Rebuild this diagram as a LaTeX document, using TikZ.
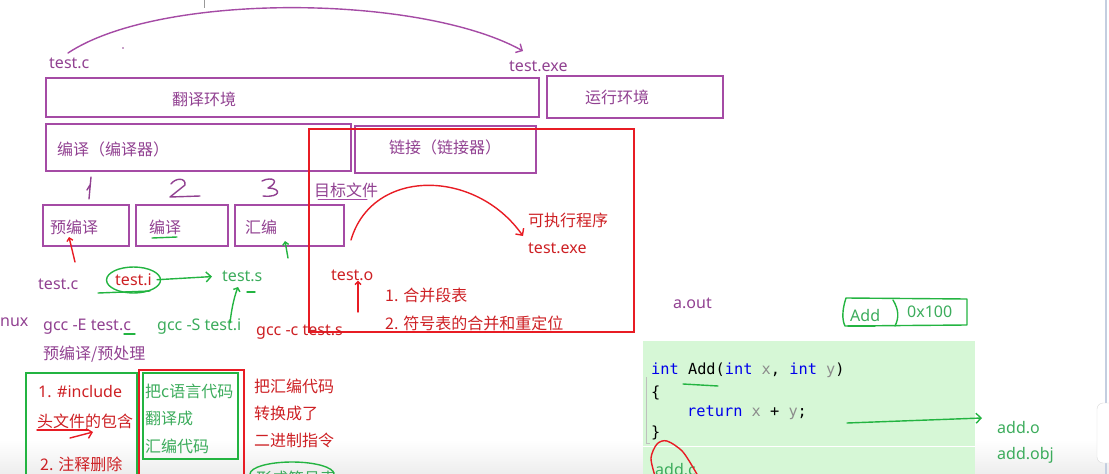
\documentclass[tikz,border=0pt]{standalone}
\usepackage{fontspec}
\setmainfont{Noto Sans}
\newfontfamily\zh{Noto Sans CJK SC}
\newfontfamily\codefont{DejaVu Sans Mono}
\usetikzlibrary{arrows.meta}

\definecolor{boxpurple}{RGB}{165,75,165}
\definecolor{txtpurple}{RGB}{145,65,145}
\definecolor{penred}{RGB}{232,28,36}
\definecolor{txtred}{RGB}{205,32,36}
\definecolor{pengreen}{RGB}{35,180,65}
\definecolor{txtgreen}{RGB}{60,172,92}
\definecolor{codebg}{RGB}{214,247,214}
\definecolor{kwblue}{RGB}{0,0,235}
\definecolor{barblue}{RGB}{196,206,224}

\begin{document}
\begin{tikzpicture}[x=1pt,y=-1pt,
  tag/.style={inner sep=0pt,anchor=west,font=\fontsize{16}{19}\selectfont},
  zhtag/.style={tag,font=\zh\fontsize{16}{19}\selectfont},
  code/.style={inner sep=0pt,anchor=west,font=\codefont\fontsize{15.3}{18}\selectfont},
  envbox/.style={draw=boxpurple,line width=2.6pt},
  redbox/.style={draw=penred,line width=2.4pt},
  greenbox/.style={draw=pengreen,line width=2.4pt},
  pen/.style={line width=1.4pt,line cap=round,line join=round},
  barb/.style={-{Straight Barb[length=5pt,width=10pt]}}]
\useasboundingbox (0,0) rectangle (1109,474);
\clip (0,0) rectangle (1109,474);
\shade[top color=white,bottom color=black!7] (0,440) rectangle (1109,474);
\draw[barblue,line width=2pt] (1106,0) -- (1106,474);
\draw[black!15,fill=white,rounded corners=6pt] (1097,403) rectangle (1118,463);

% top: source to executable
\draw[black!40,line width=.6pt] (204,0) -- (204,8);
\fill[txtpurple] (123,48) circle (.8);
\node[tag,text=txtpurple] (srcc) at (49,63) {test.c};
\node[tag,text=txtpurple] (dstexe) at (509,66) {test.exe};
\coordinate (arcstart) at (68,53);
\coordinate (arcend) at (523,51);
\draw[pen,boxpurple,barb] (arcstart) .. controls (160,-8) and (420,-6) .. (arcend);

% environments
\draw[envbox] (46,78) rectangle (539,117);
\node[zhtag,text=txtpurple] (transenv) at (172,99) {翻译环境};
\draw[envbox] (547,76) rectangle (723,118);
\node[zhtag,text=txtpurple] (runenv) at (585,97) {运行环境};
\draw[envbox] (46,124) rectangle (351,171);
\node[zhtag,text=txtpurple] (compiler) at (57,149) {编译（编译器）};
\draw[envbox] (355,126) rectangle (536,173);
\node[zhtag,text=txtpurple] (linker) at (389,147) {链接（链接器）};

% the three compile steps
\draw[pen,txtpurple] (91,177) -- (89,199) (90,185) -- (87,190);
\draw[pen,txtpurple] (171,184) .. controls (175,178) and (186,177) .. (185,185)
  -- (170,197) -- (200,196);
\draw[pen,txtpurple] (262,181) .. controls (272,176) and (281,181) .. (268,188)
  .. controls (282,188) and (281,198) .. (263,196);
\draw[envbox] (43,205) rectangle (129,246);
\node[zhtag,text=txtpurple] (precomp) at (50,227) {预编译};
\draw[envbox] (136,205) rectangle (228,246);
\node[zhtag,text=txtpurple] (comp) at (149,227) {编译};
\draw[pen,pengreen] (152,238) -- (177,237);
\draw[envbox] (235,205) rectangle (344,246);
\node[zhtag,text=txtpurple] (asm) at (245,227) {汇编};

% link box
\draw[redbox] (309,129) rectangle (634,332);
\node[zhtag,text=txtpurple] (objlabel) at (314,190) {目标文件};
\draw[pen,boxpurple,line width=1pt] (318,199) -- (367,199);
\node[zhtag,text=txtred] (runexe) at (528,220) {可执行程序};
\node[tag,text=txtred] (linkexe) at (528,248) {test.exe};
\coordinate (linkstart) at (351,240);
\coordinate (linktip) at (523,236);
\draw[pen,penred,barb] (linkstart) .. controls (372,168) and (475,168) .. (linktip);
\node[tag,text=txtred] (testo) at (331,275) {test.o};
\coordinate (otail) at (358,312);
\draw[pen,penred,-{Straight Barb[length=3pt,width=6pt]}] (otail) -- (testo.south -| otail);
\node[zhtag,text=txtred] (merge1) at (385,295) {1. 合并段表};
\node[zhtag,text=txtred] (merge2) at (385,323) {2. 符号表的合并和重定位};
\node[tag,text=txtpurple] (aout) at (673,303) {a.out};

% files and commands
\node[tag,text=txtpurple] (testc) at (38,284) {test.c};
\coordinate (ctail) at (75,262);
\draw[pen,penred,-{Straight Barb[length=3pt,width=6pt]}] (ctail) -- (69,237);
\node[tag,text=txtred] (testi) at (115,280) {test.i};
\draw[pen,pengreen] (testi.center) ellipse [x radius=27,y radius=13];
\draw[pen,pengreen] (98,293) -- (150,291);
\node[tag,text=txtgreen] (tests) at (222,276) {test.s};
\draw[pen,pengreen,barb,shorten <=5pt,shorten >=10pt] (testi.east) -- (tests.west);
\draw[pen,pengreen] (247,292) -- (255,292);
\coordinate (stail) at (288,258);
\draw[pen,pengreen,-{Straight Barb[length=3pt,width=6pt]}] (stail) -- (285,241);
\node[tag,text=txtpurple] (linux) at (0,322) {nux};
\node[tag,text=txtpurple] (gcce) at (43,327) {gcc -E test.c};
\draw[pen,pengreen] (124,334) -- (135,334);
\node[tag,text=txtgreen] (gccs) at (157,327) {gcc -S test.i};
\coordinate (gtail) at (230,323);
\draw[pen,pengreen,-{Straight Barb[length=3pt,width=7pt]}] (gtail) .. controls (232,305) and (235,295) .. (238,287);
\node[tag,text=txtred] (gccc) at (256,332) {gcc -c test.s};
\node[zhtag,text=txtpurple] (prepro) at (43,354) {预编译/预处理};

% notes on each step
\draw[greenbox] (26,373) rectangle (137,480);
\draw[redbox] (139,370) rectangle (244,480);
\draw[greenbox] (143,373) rectangle (238,459);
\node[tag,text=txtred] (inc) at (38,392) {1. \#include};
\node[zhtag,text=txtred] (header) at (37,421) {头文件的包含};
\draw[pen,penred] (37,430) -- (88,430);
\coordinate (htail) at (70,438);
\draw[pen,penred,barb] (htail) -- (93,432);
\node[zhtag,text=txtred] (comment) at (40,464) {2. 注释删除};
\node[zhtag,text=txtgreen] (note1) at (145,391) {把c语言代码};
\node[zhtag,text=txtgreen] (note2) at (145,418) {翻译成};
\node[zhtag,text=txtgreen] (note3) at (145,446) {汇编代码};
\node[zhtag,text=txtred] (bin1) at (254,386) {把汇编代码};
\node[zhtag,text=txtred] (bin2) at (254,413) {转换成了};
\node[zhtag,text=txtred] (bin3) at (254,440) {二进制指令};
\node[zhtag,text=txtgreen] (symtab) at (256,478) {形成符号表};
\draw[pen,pengreen] (292,474) ellipse [x radius=42,y radius=12];

% symbol table entry
\draw[pen,pengreen] (846,298) .. controls (842,310) and (842,320) .. (845,326)
  -- (967,325) -- (967,299) -- cycle;
\draw[pen,pengreen] (893,300) .. controls (899,310) and (899,318) .. (895,326);
\node[tag,text=txtgreen] (addsym) at (850,315) {Add};
\draw[pen,pengreen] (848,326) -- (875,326);
\node[tag,text=txtgreen] (addaddr) at (907,312) {0x100};

% source code
\fill[codebg] (643,341) rectangle (975,474);
\draw[white,line width=1pt] (643,446) -- (975,446);
\draw[black!25,line width=.6pt] (646,377) -- (646,443) -- (650,443);
\node[code] (sig) at (651,370) {\textcolor{kwblue}{int} Add(\textcolor{kwblue}{int} \textcolor{black!45}{x}, \textcolor{kwblue}{int} \textcolor{black!45}{y})};
\draw[pen,pengreen] (683,384) -- (718,386);
\node[code] (lbrace) at (651,393) {\{};
\node[code] (ret) at (687,413) {\textcolor{kwblue}{return} \textcolor{black!45}{x} + \textcolor{black!45}{y};};
\node[code] (rbrace) at (651,433) {\}};
\node[tag,text=txtgreen] (addc) at (655,470) {add.c};
\draw[pen,penred] plot[smooth] coordinates {(655,476) (651,458) (657,444) (667,441) (683,452) (698,476)};
\coordinate (codetail) at (847,423);
\node[tag,text=txtgreen] (addo) at (997,428) {add.o};
\node[tag,text=txtgreen] (addobj) at (997,455) {add.obj};
\draw[pen,pengreen,barb] (codetail) -- (982,418);
\end{tikzpicture}
\end{document}
